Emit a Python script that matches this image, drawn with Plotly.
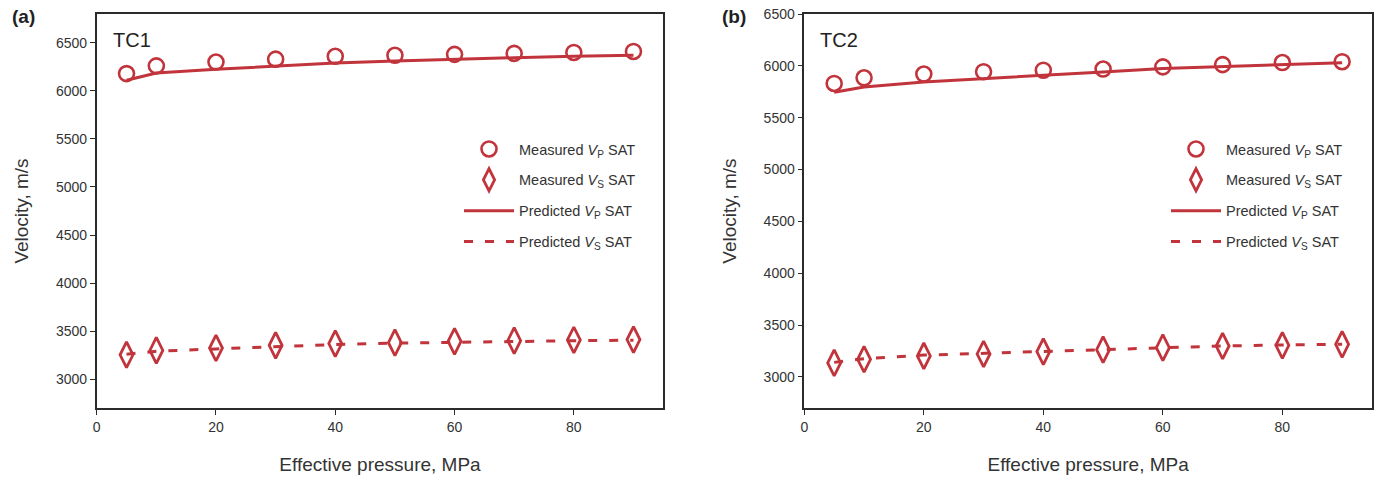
import plotly.graph_objects as go

# ---------------- data ----------------
pressure = [5, 10, 20, 30, 40, 50, 60, 70, 80, 90]

tc1_vp_meas = [6180, 6260, 6300, 6330, 6360, 6370, 6380, 6390, 6400, 6410]
tc1_vs_meas = [3254, 3299, 3324, 3352, 3370, 3380, 3394, 3401, 3408, 3412]
tc1_vp_pred = [6110, 6185, 6225, 6260, 6290, 6310, 6330, 6345, 6360, 6370]
tc1_vs_pred = [3260, 3290, 3315, 3340, 3360, 3375, 3385, 3395, 3400, 3405]

tc2_vp_meas = [5830, 5885, 5921, 5943, 5958, 5969, 5990, 6012, 6032, 6040]
tc2_vs_meas = [3135, 3170, 3202, 3221, 3244, 3263, 3282, 3298, 3304, 3314]
tc2_vp_pred = [5745, 5795, 5845, 5875, 5905, 5940, 5975, 5995, 6015, 6030]
tc2_vs_pred = [3140, 3175, 3210, 3228, 3247, 3265, 3283, 3298, 3308, 3315]

x_ticks = [0, 20, 40, 60, 80]
y_ticks = [3000, 3500, 4000, 4500, 5000, 5500, 6000, 6500]

legend_names = ["Measured <i>V</i><sub>P</sub> SAT",
                "Measured <i>V</i><sub>S</sub> SAT",
                "Predicted <i>V</i><sub>P</sub> SAT",
                "Predicted <i>V</i><sub>S</sub> SAT"]

panels = [("TC1", "(a)", tc1_vp_meas, tc1_vs_meas, tc1_vp_pred, tc1_vs_pred, [2700, 6800]),
          ("TC2", "(b)", tc2_vp_meas, tc2_vs_meas, tc2_vp_pred, tc2_vs_pred, [2700, 6500])]

RED = "#c1343c"
AX = "#2b2b2b"
FONT = "Arial, Liberation Sans, Helvetica, sans-serif"

W, H = 1380, 483
MT, MB = 14, 75
plot_h = H - MT - MB
x_domains = [[96.7 / W, 663.3 / W], [804.3 / W, 1372 / W]]

fig = go.Figure()

for i, (name, tag, vpm, vsm, vpp, vss, yr) in enumerate(panels):
    sfx = "" if i == 0 else str(i + 1)
    xa, ya = "x" + sfx, "y" + sfx
    lg = "legend" + sfx
    fig.add_trace(go.Scatter(x=pressure, y=vpm, mode="markers", name=legend_names[0],
                             xaxis=xa, yaxis=ya, legend=lg, legendgroup=f"g{i}a",
                             marker=dict(symbol="circle-open", size=15, color=RED,
                                         line=dict(width=2.6, color=RED))))
    fig.add_trace(go.Scatter(x=pressure, y=vsm, mode="markers", name=legend_names[1],
                             xaxis=xa, yaxis=ya, legend=lg, legendgroup=f"g{i}b",
                             marker=dict(symbol="diamond-tall-open", size=18.5, color=RED,
                                         line=dict(width=2.8, color=RED))))
    fig.add_trace(go.Scatter(x=pressure, y=vpp, mode="lines", name=legend_names[2],
                             xaxis=xa, yaxis=ya, legend=lg, legendgroup=f"g{i}c",
                             line=dict(color=RED, width=3)))
    fig.add_trace(go.Scatter(x=pressure, y=vss, mode="lines", name=legend_names[3],
                             xaxis=xa, yaxis=ya, legend=lg, legendgroup=f"g{i}d",
                             line=dict(color=RED, width=3, dash="9px,12px")))

    axis_common = dict(showline=True, linecolor=AX, linewidth=1.5, mirror=True,
                       ticks="outside", ticklen=5, tickwidth=1.2, tickcolor=AX,
                       showgrid=False, zeroline=False,
                       tickfont=dict(family=FONT, size=14, color="#333"))
    fig.update_layout(**{
        "xaxis" + sfx: dict(domain=x_domains[i], range=[0, 95], tickvals=x_ticks,
                            anchor=ya,
                            title=dict(text="Effective pressure, MPa", standoff=24,
                                       font=dict(family=FONT, size=19, color="#333")),
                            **axis_common),
        "yaxis" + sfx: dict(domain=[0, 1], range=yr, tickvals=y_ticks, anchor=xa,
                            title=dict(text="Velocity, m/s", standoff=22,
                                       font=dict(family=FONT, size=19, color="#333")),
                            **axis_common),
        lg: dict(x=(459 if i == 0 else 1166) / W, xanchor="left",
                 y=(H - MB - 133) / plot_h, yanchor="top", yref="paper",
                 bgcolor="rgba(0,0,0,0)", borderwidth=0,
                 itemwidth=50, tracegroupgap=9, itemsizing="trace",
                 font=dict(family=FONT, size=14.5, color="#333")),
    })

    x0 = x_domains[i][0]
    fig.add_annotation(text=f"<b>{tag}</b>", xref="paper", yref="paper",
                       x=(10 if i == 0 else 720) / W, y=(H - MB - 17) / plot_h,
                       xanchor="left", yanchor="middle", showarrow=False,
                       font=dict(family=FONT, size=19, color="#222"))
    fig.add_annotation(text=name, xref="paper", yref="paper",
                       x=x0 + 14 / W, y=(H - MB - 40) / plot_h,
                       xanchor="left", yanchor="middle", showarrow=False,
                       font=dict(family=FONT, size=20, color="#222"))

fig.update_layout(width=W, height=H, margin=dict(l=0, r=0, t=MT, b=MB, autoexpand=False),
                  paper_bgcolor="white", plot_bgcolor="white",
                  font=dict(family=FONT, color="#333"))

fig.write_html("out.html")
